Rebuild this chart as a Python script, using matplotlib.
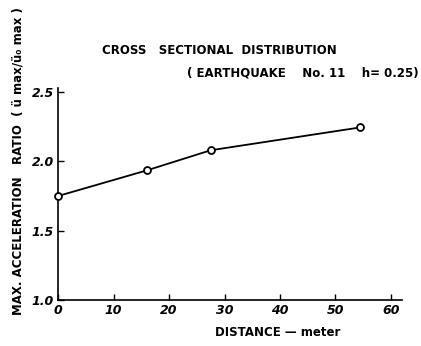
import numpy as np
import matplotlib.pyplot as plt

distance = [0, 16, 27.5, 54.5]
ratio = [1.75, 1.935, 2.08, 2.245]
xticks = [0, 10, 20, 30, 40, 50, 60]
yticks = [1.0, 1.5, 2.0, 2.5]

plt.rcParams['font.family'] = 'DejaVu Sans'

fig = plt.figure(figsize=(4.21, 3.46), dpi=100)
ax = fig.add_axes([0.138, 0.133, 0.817, 0.613])

ax.plot(distance, ratio, color='black', lw=1.3, marker='o', ms=5,
        mfc='white', mec='black', mew=1.3, clip_on=False, zorder=3)

ax.set_xlim(0, 62)
ax.set_ylim(1.0, 2.53)
ax.set_xticks(xticks)
ax.set_yticks(yticks)
ax.set_yticklabels(['1.0', '1.5', '2.0', '2.5'])
ax.spines['top'].set_visible(False)
ax.spines['right'].set_visible(False)
for s in ('left', 'bottom'):
    ax.spines[s].set_linewidth(1.2)
ax.tick_params(direction='in', length=4, width=1.0, labelsize=9, pad=3)
for lab in ax.get_xticklabels() + ax.get_yticklabels():
    lab.set_fontstyle('italic')
    lab.set_fontweight('bold')

# axis titles
fig.text(0.66, 0.02, 'DISTANCE \u2014 meter', ha='center', va='bottom',
         fontsize=8.5, fontweight='bold')
fig.text(0.043, 0.535, 'MAX. ACCELERATION   RATIO  ( \u00fc max/\u00fc\u2080 max )',
         rotation=90, ha='center', va='center', fontsize=8.5, fontweight='bold')

fig.text(0.52, 0.845, 'CROSS   SECTIONAL  DISTRIBUTION', ha='center',
         fontsize=8.5, fontweight='bold')
fig.text(0.72, 0.78, '( EARTHQUAKE    No. 11    h= 0.25)', ha='center',
         fontsize=8.5, fontweight='bold')

fig.savefig('out.png', dpi=100)
